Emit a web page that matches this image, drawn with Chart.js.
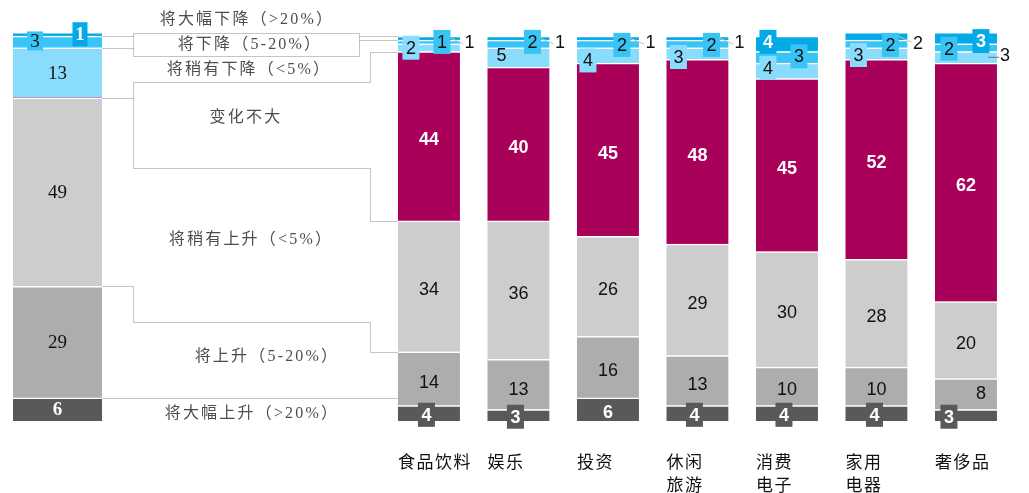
<!DOCTYPE html>
<html lang="zh">
<head>
<meta charset="utf-8">
<title>消费预期变化</title>
<script src="https://cdn.jsdelivr.net/npm/chart.js@4.4.1/dist/chart.umd.min.js"></script>
<style>
  html, body { margin: 0; padding: 0; background: #fff; }
</style>
</head>
<body>
<canvas id="expectChart" width="1029" height="493"></canvas>
<script>
const seriesNames = [
  '将大幅上升（>20%）',
  '将上升（5-20%）',
  '将稍有上升（<5%）',
  '变化不大',
  '将稍有下降（<5%）',
  '将下降（5-20%）',
  '将大幅下降（>20%）'
];
const categories = [['食品饮料'], ['娱乐'], ['投资'], ['休闲', '旅游'], ['消费', '电子'], ['家用', '电器'], ['奢侈品']];

// overall bar, same series order (bottom to top)
const overall = [6, 29, 49, 0, 13, 3, 1];

// per category, bottom to top
const bigRise    = [4, 3, 6, 4, 4, 4, 3];
const rise       = [14, 13, 16, 13, 10, 10, 8];
const slightRise = [34, 36, 26, 29, 30, 28, 20];
const noChange   = [44, 40, 45, 48, 45, 52, 62];
const slightFall = [2, 5, 4, 3, 4, 3, 3];
const fall       = [1, 2, 2, 2, 3, 2, 2];
const bigFall    = [1, 1, 1, 1, 4, 2, 3];

const seriesData = [bigRise, rise, slightRise, noChange, slightFall, fall, bigFall];
const colors = ['#595959', '#adadad', '#cdcdcd', '#a9005a', '#8adcfc', '#38c4f4', '#03aae6'];

// horizontal layout: overall bar at 0, categories one unit apart after a gap
const OVERALL_X = 0;
const FIRST_CAT_X = 4.15;
const catX = categories.map((c, i) => FIRST_CAT_X + i);

// y levels (value units) where the dotted guides and the series names sit
const guide = { boxTop: 100.8, boxBottom: 94.8, upper: 88.1, middle: 65.7, lower: 25.7 };
const nameSpots = [[6, 1.8], [21, 16.6], [5, 47.0], [0, 78.7], [3, 91.2], [4, 97.7], [1, 104.2]];

// placement of labels on thin segments: key = series-bar (bar 0 is the overall bar)
const labelTweaks = {
  '0-1': { mode: 'box', dx: -2.5, dy: 1.5 }, '0-2': { mode: 'box', dx: -3, dy: 1.5 },
  '0-4': { mode: 'box', dx: -3, dy: 1.5 }, '0-5': { mode: 'box', dx: -3, dy: 1.5 },
  '0-6': { mode: 'box', dx: -2, dy: 1.5 }, '0-7': { mode: 'box', dx: -17, dy: 1.5 },
  '1-2': { dy: 5 }, '1-7': { dx: 15, dy: -1 },
  '4-1': { mode: 'box', dx: -18 }, '4-2': { dx: -17, dy: -2 },
  '4-3': { mode: 'box', dx: -20, dy: 5 }, '4-4': { mode: 'box', dx: -19, dy: 3.5 },
  '4-5': { mode: 'box', dx: -19, dy: -3 }, '4-6': { mode: 'box', dx: -18, dy: 1.5 },
  '4-7': { mode: 'out', dx: 8, dy: -2, ldy: 0, lc: '#777' },
  '5-0': { mode: 'box', dx: -22.5, dy: -1, w: 16, h: 19 }, '5-1': { mode: 'box', dx: 13 },
  '5-2': { mode: 'box', dx: 14, dy: -2 }, '5-3': { mode: 'box', dx: 14, dy: 1 },
  '5-4': { mode: 'box', dx: 14, dy: 1 }, '5-5': { mode: 'box', dx: 12, dy: -1 },
  '5-6': { mode: 'box', dx: 14, dy: 1 }, '5-7': { mode: 'box', dx: -17, dy: 1 },
  '6-0': { mode: 'box', dx: 22.5, dy: 0, w: 15 }, '6-1': { mode: 'out', dx: 9.5, dy: 4 },
  '6-2': { mode: 'out', dx: 10.5, dy: 4 }, '6-3': { mode: 'out', dx: 11.5, dy: 4 },
  '6-4': { mode: 'out', dx: 11, dy: 4 }, '6-5': { mode: 'box', dx: -19, dy: -2 },
  '6-6': { mode: 'out', dx: 10.5, dy: 7 }, '6-7': { mode: 'box', dx: 15, dy: 3 }
};

const SERIF = '"Liberation Serif", "Noto Sans CJK SC", serif';
const SANS = '"Liberation Sans", Arial, sans-serif';

const sumTo = (arr, k) => arr.slice(0, k).reduce((a, b) => a + b, 0);
const firstCol = seriesData.map(a => a[0]);

const datasets = [];
seriesData.forEach((vals, s) => {
  datasets.push({
    label: seriesNames[s],
    data: [{ x: OVERALL_X, y: overall[s] }],
    backgroundColor: colors[s],
    barThickness: 89,
    part: 'overall',
    series: s
  });
});
seriesData.forEach((vals, s) => {
  datasets.push({
    label: seriesNames[s],
    data: vals.map((v, i) => ({ x: catX[i], y: v })),
    backgroundColor: colors[s],
    barThickness: 62,
    part: 'cats',
    series: s
  });
});

const connectors = {
  id: 'connectors',
  beforeDatasetsDraw(chart) {
    const { ctx, scales: { y } } = chart;
    const leftBar = chart.getDatasetMeta(0).data[0];
    const firstBar = chart.getDatasetMeta(seriesData.length).data[0];
    const xL = leftBar.x + leftBar.width / 2;
    const xF = firstBar.x - firstBar.width / 2;
    const e1 = xL + 31, e2 = xF - 39, e3 = xF - 28;
    const cumL = k => y.getPixelForValue(sumTo(overall, k));
    const cumF = k => y.getPixelForValue(sumTo(firstCol, k));
    const lvl = v => y.getPixelForValue(v);
    const paths = [
      [[xL, cumL(6)], [e1, cumL(6)]],
      [[xL, cumL(5)], [e1, cumL(5)]],
      [[e1, lvl(guide.boxTop)], [e2, lvl(guide.boxTop)], [e2, lvl(guide.boxBottom)], [e1, lvl(guide.boxBottom)], [e1, lvl(guide.boxTop)]],
      [[e2, cumF(7)], [xF, cumF(7)]],
      [[e2, cumF(6)], [xF, cumF(6)]],
      [[xL, cumL(4)], [e1, cumL(4)], [e1, lvl(guide.upper)], [e3, lvl(guide.upper)], [e3, cumF(4)], [xF, cumF(4)]],
      [[e1, cumL(3)], [e1, lvl(guide.middle)], [e3, lvl(guide.middle)], [e3, cumF(3)], [xF, cumF(3)]],
      [[xL, cumL(2)], [e1, cumL(2)], [e1, lvl(guide.lower)], [e3, lvl(guide.lower)], [e3, cumF(2)], [xF, cumF(2)]],
      [[xL, cumL(1)], [xF, cumL(1)]]
    ];
    const snap = v => Math.round(v) + 0.5;
    ctx.save();
    ctx.strokeStyle = '#8a8a8a';
    ctx.lineWidth = 1;
    ctx.setLineDash([1, 1]);
    paths.forEach(pts => {
      ctx.beginPath();
      pts.forEach(([px, py], i) => i ? ctx.lineTo(snap(px), snap(py)) : ctx.moveTo(snap(px), snap(py)));
      ctx.stroke();
    });
    ctx.restore();
  }
};

const seriesNameLabels = {
  id: 'seriesNameLabels',
  afterDatasetsDraw(chart) {
    const { ctx, scales: { y } } = chart;
    const leftBar = chart.getDatasetMeta(0).data[0];
    const firstBar = chart.getDatasetMeta(seriesData.length).data[0];
    const mid = (leftBar.x + leftBar.width / 2 + 31 + firstBar.x - firstBar.width / 2 - 39) / 2;
    ctx.save();
    ctx.font = '16px ' + SERIF;
    ctx.letterSpacing = '2.2px';
    ctx.fillStyle = '#4d4d4d';
    ctx.textAlign = 'center';
    ctx.textBaseline = 'middle';
    seriesNames.forEach((name, s) => {
      const [dx, v] = nameSpots[s];
      ctx.fillText(name, mid + dx, y.getPixelForValue(v));
    });
    ctx.restore();
  }
};

const valueLabels = {
  id: 'valueLabels',
  afterDatasetsDraw(chart) {
    const ctx = chart.ctx;
    ctx.save();
    ctx.letterSpacing = '0px';
    ctx.textAlign = 'center';
    ctx.textBaseline = 'middle';
    chart.data.datasets.forEach((ds, di) => {
      const meta = chart.getDatasetMeta(di);
      meta.data.forEach((bar, i) => {
        const v = ds.data[i].y;
        if (!v) return;
        const s = ds.series;
        const barIdx = ds.part === 'overall' ? 0 : i + 1;
        const tw = labelTweaks[s + '-' + barIdx] || {};
        const mode = tw.mode || 'plain';
        const segY = (bar.y + bar.base) / 2;
        const half = bar.width / 2;
        // plain category labels sit a touch below the segment middle
        const nudge = (mode === 'plain' && tw.dy === undefined && ds.part === 'cats') ? 3 : 0;
        const cy = segY + (tw.dy || 0) + nudge;
        const light = s === 0 || s === 3 || (s === 6 && mode === 'box');
        const family = ds.part === 'overall' ? SERIF : SANS;
        const size = ds.part === 'overall' ? 19 : 18;
        ctx.font = (light ? 'bold ' : '') + size + 'px ' + family;
        let cx = bar.x + (tw.dx || 0);
        if (mode === 'box') {
          const w = tw.w || 17, h = tw.h || 24;
          ctx.fillStyle = ds.backgroundColor;
          ctx.fillRect(cx - w / 2, cy - h / 2, w, h);
        } else if (mode === 'out') {
          cx = bar.x + half + tw.dx;
          const ldy = tw.ldy !== undefined ? tw.ldy : 6;
          ctx.strokeStyle = tw.lc || '#c4c4c4';
          ctx.lineWidth = 1;
          ctx.beginPath();
          ctx.moveTo(bar.x + half - 9, segY);
          ctx.lineTo(cx - 6, segY + ldy);
          ctx.stroke();
        }
        ctx.fillStyle = light ? '#fff' : '#111';
        ctx.fillText(String(v), cx, cy + 1);
      });
    });
    ctx.restore();
  }
};

// category tick labels are spaced out a little, like the rest of the text
const tickSpacing = {
  id: 'tickSpacing',
  beforeDraw(chart) { chart.ctx.letterSpacing = '1.5px'; },
  beforeDatasetsDraw(chart) { chart.ctx.letterSpacing = '0px'; }
};

new Chart(document.getElementById('expectChart'), {
  type: 'bar',
  data: { datasets },
  plugins: [connectors, seriesNameLabels, valueLabels, tickSpacing],
  options: {
    responsive: false,
    animation: false,
    layout: { padding: { left: 12.75, right: 18.3, top: 0, bottom: 0 } },
    datasets: {
      bar: {
        grouped: false,
        borderColor: '#fff',
        borderWidth: { top: 1.5, right: 0, bottom: 0, left: 0 },
        borderSkipped: 'start'
      }
    },
    plugins: {
      legend: { display: false },
      tooltip: { enabled: false }
    },
    scales: {
      x: {
        type: 'linear',
        min: -0.5,
        max: 10.65,
        offset: false,
        grid: { display: false, drawTicks: false },
        border: { display: false },
        afterBuildTicks: scale => { scale.ticks = catX.map(v => ({ value: v })); },
        afterFit: scale => { scale.height = 72; scale.paddingLeft = 0; scale.paddingRight = 0; },
        ticks: {
          autoSkip: false,
          maxRotation: 0,
          minRotation: 0,
          align: 'start',
          labelOffset: -31,
          padding: 31,
          color: '#111',
          font: { family: SERIF, size: 17, lineHeight: 1.35 },
          callback: (value, index) => categories[index]
        }
      },
      y: {
        display: false,
        stacked: true,
        min: 0,
        max: 109.4
      }
    }
  }
});
</script>
</body>
</html>
